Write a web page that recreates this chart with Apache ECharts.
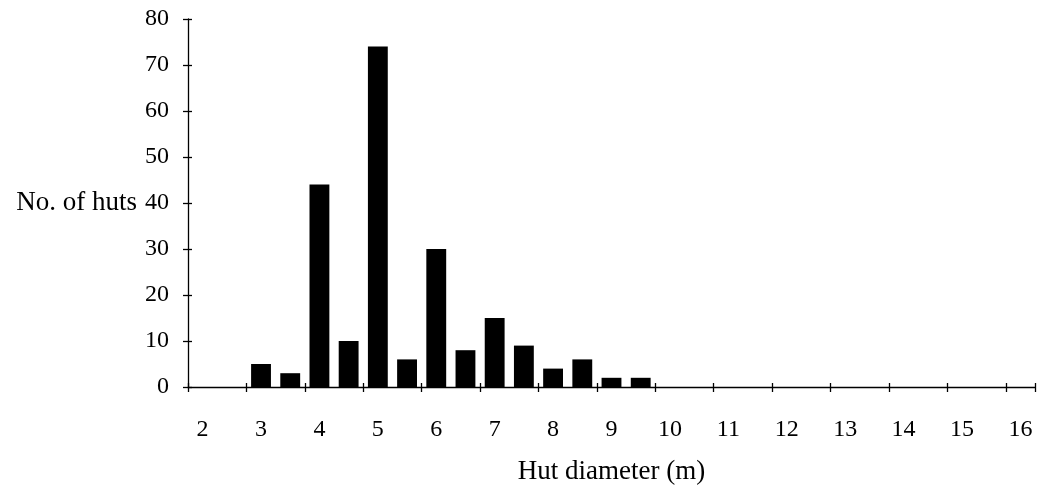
<!DOCTYPE html>
<html>
<head>
<meta charset="utf-8">
<script src="https://cdn.jsdelivr.net/npm/echarts@6/dist/echarts.min.js"></script>
<style>
html,body{margin:0;padding:0;background:#fff;}
#c{width:1040px;height:490px;}
</style>
</head>
<body>
<div id="c"></div>
<script>
const categories = ["2","2.5","3","3.5","4","4.5","5","5.5","6","6.5","7","7.5","8","8.5","9","9.5","10","10.5","11","11.5","12","12.5","13","13.5","14","14.5","15","15.5","16"];
const huts = [0,0,5,3,44,10,74,6,30,8,15,9,4,6,2,2,0,0,0,0,0,0,0,0,0,0,0,0,0];
const xAxisTitle = "Hut diameter (m)";
const yAxisTitle = "No. of huts";

const FONT = "Liberation Serif";
const FS = 24;
const NFS = 27;
const chart = echarts.init(document.getElementById('c'), null, {renderer:'canvas'});
const lineStyle = {color:'#000', width:1.3};
chart.setOption({
  animation:false,
  backgroundColor:'#fff',
  grid:{left:188, right:5, top:19, bottom:98, containLabel:false},
  xAxis:[{
    type:'category', data:categories, boundaryGap:true,
    axisLine:{show:true, lineStyle:lineStyle},
    axisTick:{show:true, interval:1, length:5, lineStyle:lineStyle},
    axisLabel:{interval:1, margin:31, color:'#000', fontFamily:FONT, fontSize:FS},
    splitLine:{show:false},
    name:xAxisTitle, nameLocation:'middle', nameGap:71,
    nameTextStyle:{color:'#000', fontFamily:FONT, fontSize:NFS}
  },{
    type:'category', data:categories, boundaryGap:true, position:'bottom',
    axisLine:{show:false},
    axisTick:{show:true, inside:true, interval:1, length:4, lineStyle:lineStyle},
    axisLabel:{show:false}, splitLine:{show:false}
  }],
  yAxis:[{
    type:'value', min:0, max:80, interval:10,
    axisLine:{show:true, lineStyle:lineStyle},
    axisTick:{show:true, length:5, lineStyle:lineStyle},
    axisLabel:{margin:19, color:'#000', fontFamily:FONT, fontSize:FS},
    splitLine:{show:false},
    name:yAxisTitle, nameLocation:'middle', nameGap:51, nameRotate:0,
    nameTextStyle:{color:'#000', fontFamily:FONT, fontSize:NFS, align:'right', verticalAlign:'middle'}
  },{
    type:'value', min:0, max:80, interval:10, position:'left',
    axisLine:{show:false},
    axisTick:{show:true, inside:true, length:4, lineStyle:lineStyle},
    axisLabel:{show:false}, splitLine:{show:false}
  }],
  series:[{
    type:'bar', data:huts, xAxisIndex:0, yAxisIndex:0,
    barWidth:'68%',
    itemStyle:{color:'#000'}
  }]
});
</script>
</body>
</html>
